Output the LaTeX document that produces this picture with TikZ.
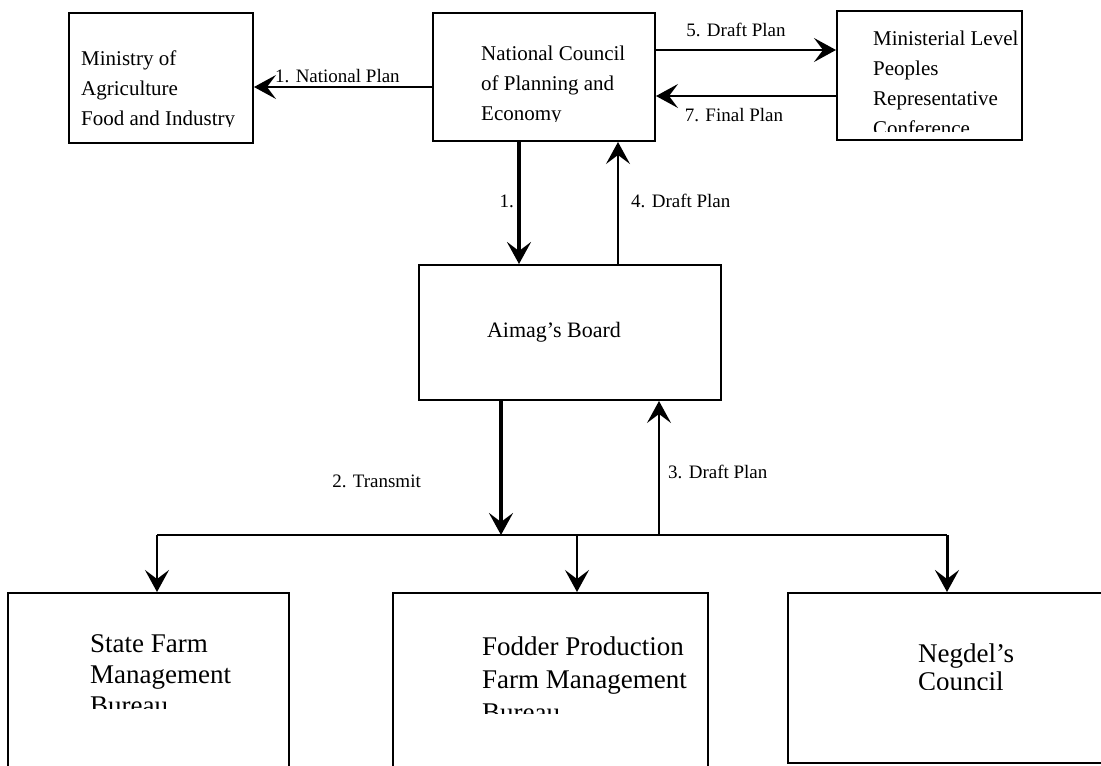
\documentclass[tikz,border=0pt]{standalone}
\usepackage{fontspec}
\setmainfont{Liberation Serif}
\usetikzlibrary{arrows.meta}
\newcommand\mlines[1]{\begin{tabular}[t]{@{}l@{}}#1\end{tabular}}
\begin{document}
\begin{tikzpicture}[x=1pt,y=-1pt,
  box/.style={draw, line width=2pt, inner sep=0pt},
  txt/.style={inner sep=0pt, anchor=base west},
  lab/.style={inner sep=0pt, font=\fontsize{19}{21}\selectfont},
  tipped/.style={-{Stealth[length=22pt,width=24pt,inset=9pt]}},
  thinarrow/.style={tipped, line width=1.6pt},
  thickarrow/.style={tipped, line width=4pt},
  midarrow/.style={tipped, line width=3pt},
  link/.style={line width=1.6pt}]
\useasboundingbox (0,0) rectangle (1101,766);
\clip (0,0) rectangle (1101,766);

% boxes
\node[box, minimum width=184pt, minimum height=130pt] (min) at (161,78) {};
\node[box, minimum width=222pt, minimum height=128pt] (ncpe) at (544,77) {};
\node[box, minimum width=185pt, minimum height=129pt] (mlprc) at (929.5,75.5) {};
\node[box, minimum width=302pt, minimum height=135pt] (aimag) at (570,332.5) {};
\node[box, minimum width=281pt, minimum height=220pt] (sfmb) at (148.5,703) {};
\node[box, minimum width=315pt, minimum height=220pt] (fpfmb) at (550.5,703) {};
\node[box, minimum width=342pt, minimum height=170pt] (negdel) at (959,678) {};

% box texts (cut off at the bottom as in the original)
\begin{scope}
  \clip (60,0) rectangle (260,126);
  \node[txt, font=\fontsize{21}{30}\selectfont] (minT) at (81,65)
    {\mlines{Ministry of\\Agriculture\\Food and Industry}};
\end{scope}
\begin{scope}
  \clip (440,0) rectangle (650,121);
  \node[txt, font=\fontsize{21}{30}\selectfont] (ncpeT) at (481,60)
    {\mlines{National Council\\of Planning and\\Economy}};
\end{scope}
\begin{scope}
  \clip (845,0) rectangle (1022,131);
  \node[txt, font=\fontsize{21}{30}\selectfont] (mlprcT) at (873,45)
    {\mlines{Ministerial Level\\Peoples\\Representative\\Conference}};
\end{scope}
\node[inner sep=0pt, anchor=base, font=\fontsize{22}{26}\selectfont] (aimagT) at (554,337) {Aimag's Board};
\begin{scope}
  \clip (20,600) rectangle (285,708);
  \node[txt, font=\fontsize{27}{31}\selectfont] (sfmbT) at (90,652)
    {\mlines{State Farm\\Management\\Bureau}};
\end{scope}
\begin{scope}
  \clip (400,600) rectangle (705,713);
  \node[txt, font=\fontsize{27}{33}\selectfont] (fpfmbT) at (482,655)
    {\mlines{Fodder Production\\Farm Management\\Bureau}};
\end{scope}
\begin{scope}
  \clip (800,600) rectangle (1100,689);
  \node[txt, font=\fontsize{27}{28}\selectfont] (negdelT) at (918,662)
    {\mlines{Negdel's\\Council}};
\end{scope}

% top connectors
\draw[thinarrow] (ncpe.west |- 0,87) -- (min.east |- 0,87);
\node[lab, anchor=base west] (l1) at (275,82) {1. National Plan};
\draw[thinarrow] (ncpe.east |- 0,50) -- (mlprc.west |- 0,50);
\node[lab, anchor=base] (l5) at (736,36) {5. Draft Plan};
\draw[thinarrow] (mlprc.west |- 0,96) -- (ncpe.east |- 0,96);
\node[lab, anchor=base] (l7) at (734,121) {7. Final Plan};

\draw[thickarrow] (ncpe.south -| 519,0) -- (aimag.north -| 519,0);
\node[lab, anchor=base east] (l1b) at (514,207) {1.};
\draw[thinarrow] (aimag.north -| 618,0) -- (ncpe.south -| 618,0);
\node[lab, anchor=base west] (l4) at (631,207) {4. Draft Plan};

% lower connectors
\coordinate (busL) at (157,535);
\coordinate (busT) at (501,535);
\coordinate (busF) at (577,535);
\coordinate (busD) at (659,535);
\coordinate (busR) at (947,535);
\draw[thickarrow] (aimag.south -| busT) -- (busT);
\node[lab, anchor=base east] (l2) at (421,487) {2. Transmit};
\draw[thinarrow] (busD) -- (aimag.south -| busD);
\node[lab, anchor=base west] (l3) at (668,478) {3. Draft Plan};
\draw[link] (busL) -- (busR);
\draw[thinarrow] (busL) -- (sfmb.north -| busL);
\draw[thinarrow] (busF) -- (fpfmb.north -| busF);
\draw[midarrow] (busR) -- (negdel.north -| busR);
\end{tikzpicture}
\end{document}
